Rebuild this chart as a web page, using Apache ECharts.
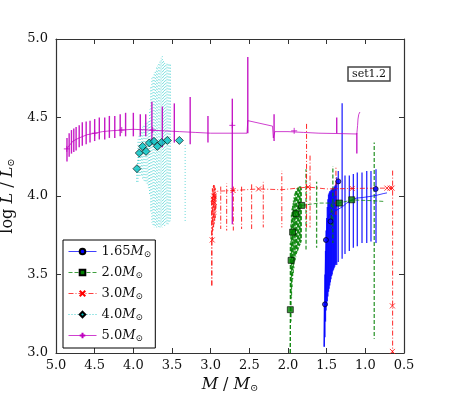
<!DOCTYPE html>
<html><head><meta charset="utf-8">
<script src="https://cdn.jsdelivr.net/npm/echarts@6/dist/echarts.min.js"></script>
<style>html,body{margin:0;padding:0;background:#fff}#c{width:449px;height:393px}</style>
</head><body><div id="c"></div>
<script>
// ---- axes ----
const xTicks = [5.0, 4.5, 4.0, 3.5, 3.0, 2.5, 2.0, 1.5, 1.0, 0.5];
const yTicks = [3.0, 3.5, 4.0, 4.5, 5.0];
const trackLabels = ['1.65', '2.0', '3.0', '4.0', '5.0'];

// ---- 1.65 Msun (blue) ----
const base165 = [[1.535,3.04],[1.525,3.35],[1.515,3.60],[1.505,3.74],[1.49,3.84],[1.47,3.88],[1.44,3.89],[1.40,3.90],[1.37,3.91],[1.30,3.93],[1.24,3.955],[1.17,3.975],[1.11,3.987],[1.04,3.99],[0.94,3.997],[0.85,4.005],[0.77,4.015],[0.72,4.02]];
const pulse165 = [[1.530,3.04,3.30],[1.522,3.10,3.50],[1.515,3.20,3.65],[1.508,3.27,3.78],[1.500,3.30,3.86],[1.492,3.33,3.93],[1.484,3.36,3.98],[1.476,3.39,4.01],[1.468,3.41,4.02],[1.460,3.43,4.03],[1.452,3.45,4.03],[1.444,3.47,4.04],[1.436,3.49,4.04],[1.428,3.50,4.05],[1.420,3.52,4.05],[1.412,3.53,4.05],[1.404,3.54,4.06],[1.396,3.55,4.06],[1.388,3.56,4.07],[1.380,3.57,4.08],[1.370,3.56,4.12],[1.350,3.58,4.16],[1.300,3.60,4.59],[1.263,3.63,4.13],[1.207,3.65,4.13],[1.155,3.67,4.14],[1.104,3.68,4.15],[1.043,3.70,4.15],[0.982,3.70,4.16],[0.927,3.71,4.16],[0.862,3.70,4.17]];
const mark165 = [[1.522,3.31],[1.51,3.72],[1.45,3.838],[1.35,4.093],[0.866,4.045]];

// ---- 2.0 Msun (green) ----
const base20 = [[1.972,3.00],[1.966,3.28],[1.96,3.59],[1.94,3.77],[1.90,3.89],[1.823,3.94],[1.80,3.945],[1.60,3.955],[1.34,3.955],[1.17,3.975],[0.90,3.97],[0.75,3.965]];
const pulse20 = [[1.970,3.00,3.70],[1.962,3.20,3.82],[1.955,3.35,3.88],[1.948,3.42,3.92],[1.940,3.47,3.95],[1.932,3.51,3.97],[1.924,3.54,3.99],[1.916,3.57,4.01],[1.908,3.59,4.02],[1.900,3.61,4.03],[1.892,3.63,4.04],[1.884,3.64,4.05],[1.876,3.65,4.05],[1.868,3.66,4.06],[1.860,3.67,4.06],[1.852,3.68,4.06],[1.844,3.69,4.06],[1.836,3.70,4.06],[1.828,3.71,4.05],[1.767,3.66,4.17],[1.630,3.67,4.09],[1.440,3.80,3.95],[1.420,3.70,4.19],[0.885,3.09,4.34]];
const mark20 = [[1.97,3.276],[1.96,3.59],[1.94,3.77],[1.897,3.887],[1.823,3.94],[1.337,3.955],[1.176,3.976]];

// ---- 3.0 Msun (red) ----
const base30 = [[2.985,3.43],[2.985,4.00],[2.93,4.03],[2.71,4.035],[2.38,4.045],[2.08,4.04],[1.74,4.057],[1.50,4.045],[1.17,4.048],[0.85,4.05],[0.65,4.05]];
const pulse30 = [[2.985,3.43,4.00],[2.978,3.72,4.05],[2.970,3.78,4.06],[2.962,3.80,4.07],[2.955,3.82,4.07],[2.948,3.84,4.06],[2.940,3.86,4.05],[2.932,3.88,4.03],[2.870,3.79,4.06],[2.793,3.78,4.08],[2.707,3.78,4.06],[2.600,3.79,4.07],[2.470,3.79,4.08],[2.320,3.80,4.09],[2.080,3.80,4.16],[1.760,3.80,4.465],[1.715,3.80,4.27],[1.380,3.88,4.18],[0.647,3.00,4.17]];
const mark30 = [[2.98,3.72],[2.965,3.98],[2.96,4.0],[2.955,3.96],[2.71,4.035],[2.38,4.045],[1.74,4.057],[1.17,4.048],[0.72,4.05],[0.68,4.05],[0.655,4.05],[0.65,3.30],[0.65,3.01]];

// ---- 4.0 Msun (cyan) ----
const base40 = [[3.955,4.09],[3.953,4.174],[3.923,4.274],[3.88,4.316],[3.836,4.284],[3.793,4.338],[3.733,4.348],[3.69,4.316],[3.633,4.341],[3.56,4.354],[3.52,4.35]];
const pulse40 = [[3.940,4.09,4.36],[3.925,4.12,4.39],[3.910,4.13,4.42],[3.895,4.12,4.43],[3.880,4.11,4.44],[3.865,4.10,4.45],[3.850,4.09,4.46],[3.835,4.08,4.47],[3.820,4.07,4.47],[3.805,4.05,4.48],[3.790,4.00,4.55],[3.775,3.90,4.70],[3.760,3.83,4.75],[3.745,3.81,4.77],[3.730,3.80,4.79],[3.715,3.80,4.80],[3.700,3.80,4.82],[3.685,3.80,4.83],[3.670,3.80,4.85],[3.655,3.80,4.86],[3.640,3.80,4.88],[3.625,3.80,4.89],[3.610,3.81,4.87],[3.595,3.81,4.85],[3.580,3.82,4.84],[3.565,3.82,4.85],[3.550,3.82,4.84],[3.535,3.83,4.85],[3.520,3.84,4.84],[3.330,3.83,4.33]];
const mark40 = [[3.953,4.174],[3.923,4.274],[3.88,4.316],[3.836,4.284],[3.793,4.338],[3.733,4.348],[3.69,4.316],[3.633,4.341],[3.56,4.354],[3.405,4.354]];

// ---- 5.0 Msun (magenta) ----
const base50 = [[4.86,4.30],[4.83,4.32],[4.78,4.35],[4.70,4.37],[4.60,4.39],[4.50,4.40],[4.40,4.41],[4.30,4.415],[4.15,4.42],[4.00,4.425],[3.80,4.42],[3.60,4.415],[3.40,4.41],[3.20,4.405],[3.00,4.40],[2.75,4.40],[2.53,4.40],[2.52,4.48],[2.20,4.445],[2.19,4.37],[2.17,4.41],[2.00,4.41],[1.80,4.405],[1.60,4.40],[1.38,4.398],[1.37,4.40],[1.11,4.395],[1.10,4.45],[1.095,4.49],[1.085,4.52],[1.07,4.535]];
const pulse50 = [[4.858,4.22,4.37],[4.83,4.25,4.40],[4.80,4.27,4.42],[4.77,4.28,4.43],[4.74,4.29,4.44],[4.70,4.31,4.45],[4.66,4.32,4.47],[4.61,4.33,4.475],[4.56,4.34,4.48],[4.50,4.35,4.49],[4.44,4.36,4.50],[4.37,4.36,4.50],[4.31,4.37,4.51],[4.24,4.37,4.51],[4.17,4.38,4.52],[4.10,4.38,4.53],[4.00,4.38,4.53],[3.91,4.38,4.52],[3.84,4.38,4.52],[3.76,4.33,4.60],[3.625,4.31,4.57],[3.47,4.34,4.59],[3.265,4.33,4.63],[3.035,4.34,4.51],[2.72,3.82,4.62],[2.52,4.40,4.885],[2.18,4.35,4.52],[1.37,4.40,4.50],[1.11,4.27,4.40]];
const mark50 = [[4.86,4.30],[4.50,4.40],[4.15,4.42],[3.75,4.42],[2.72,4.45],[1.92,4.415]];

const FONT = 'DejaVu Serif';
const tracks = [
  {label: trackLabels[0], base: base165, pulse: pulse165, mark: mark165, color: '#0000ff', dash: 'solid', pdash: null, symbol: 'circle', size: 5, lw: 1, pw: 1.3, pop: 0.85},
  {label: trackLabels[1], base: base20, pulse: pulse20, mark: mark20, color: '#008000', dash: [4, 2], pdash: [4, 2], symbol: 'rect', size: 6, lw: 1, pw: 1.3, pop: 0.8},
  {label: trackLabels[2], base: base30, pulse: pulse30, mark: mark30, color: '#ff0000', dash: [5, 2, 1, 2], pdash: [5, 2, 1, 2], symbol: 'path://M0,0L10,10M10,0L0,10', size: 5, lw: 1, pw: 1, pop: 0.85},
  {label: trackLabels[3], base: base40, pulse: pulse40, mark: mark40, color: '#00bfbf', dash: [1, 2], pdash: [1, 2], symbol: 'diamond', size: 8, lw: 1, pw: 1, pop: 0.6},
  {label: trackLabels[4], base: base50, pulse: pulse50, mark: mark50, color: '#bf00bf', dash: 'solid', pdash: null, symbol: 'path://M0,5L10,5M5,0L5,10', size: 6, lw: 1, pw: 1.4, pop: 0.9}
];

const series = [];
const markerSeries = [];
tracks.forEach(t => {
  const name = t.label + 'M⊙';
  const isPath = t.symbol.indexOf('path') === 0;
  const itemStyle = isPath ? {color: t.color, borderColor: t.color, borderWidth: 1} : {color: t.color, borderColor: '#000', borderWidth: 0.8};
  series.push({
    type: 'line', name: name, data: t.base, showSymbol: false, symbol: t.symbol, symbolSize: t.size,
    lineStyle: {color: t.color, width: t.lw, type: t.dash, opacity: 0.75},
    itemStyle: itemStyle, clip: true, z: 2
  });
  series.push({
    type: 'custom', name: name + '_p', data: t.pulse, clip: true, silent: true, z: 2,
    encode: {x: 0, y: [1, 2]},
    renderItem: (params, api) => {
      const p1 = api.coord([api.value(0), api.value(1)]);
      const p2 = api.coord([api.value(0), api.value(2)]);
      const st = {stroke: t.color, lineWidth: t.pw, opacity: t.pop};
      if (t.pdash) { st.lineDash = t.pdash; st.lineDashOffset = (params.dataIndex * 1.7) % 4; }
      return {type: 'line', shape: {x1: p1[0], y1: p1[1], x2: p2[0], y2: p2[1]}, style: st};
    }
  });
  markerSeries.push({
    type: 'scatter', name: name + '_m', data: t.mark, symbol: t.symbol, symbolSize: t.size,
    itemStyle: itemStyle, z: 5, silent: true
  });
});

const axisCommon = {
  type: 'value', splitLine: {show: false},
  axisLine: {show: true, onZero: false, lineStyle: {color: '#333', width: 1.2}},
  axisTick: {show: true, inside: true, length: 5, lineStyle: {color: '#333', width: 1}}
};
const subRich = {fontFamily: FONT, fontSize: 10, color: '#111', verticalAlign: 'bottom', padding: [8, 0, 0, 0]};

const chart = echarts.init(document.getElementById('c'), null, {renderer: 'canvas'});
chart.setOption({
  animation: false,
  backgroundColor: '#fff',
  grid: {left: 56, right: 45, top: 39, bottom: 40, containLabel: false, outerBoundsMode: 'none'},
  title: {text: 'set1.2', left: 348, top: 67, padding: [2, 4, 1, 4], borderColor: '#444', borderWidth: 1.5,
    textStyle: {fontFamily: FONT, fontSize: 11, fontWeight: 'normal', color: '#111'}},
  legend: {
    orient: 'vertical', left: 63, top: 240, data: trackLabels.map(l => l + 'M⊙'),
    itemWidth: 28, itemHeight: 7, itemGap: 7, padding: [5, 4, 5, 5],
    borderColor: '#000', borderWidth: 1, backgroundColor: '#fff',
    lineStyle: {width: 1},
    formatter: n => '{n|' + n.replace('M⊙', '') + '}{i|M}{s|⊙}',
    textStyle: {fontFamily: FONT, fontSize: 13, color: '#111',
      rich: {n: {fontFamily: FONT, fontSize: 13}, i: {fontFamily: FONT, fontSize: 13, fontStyle: 'italic'}, s: {fontFamily: FONT, fontSize: 9, verticalAlign: 'bottom', padding: [6, 0, 0, 0]}}}
  },
  xAxis: [
    Object.assign({}, axisCommon, {min: 0.5, max: 5, interval: 0.5, inverse: true, position: 'bottom',
      axisLabel: {margin: 6, fontFamily: FONT, fontSize: 13, color: '#111', formatter: v => xTicks.includes(+v.toFixed(1)) ? v.toFixed(1) : ''},
      name: '{i|M}{n| / }{i|M}{s|⊙}', nameLocation: 'middle', nameGap: 20,
      nameTextStyle: {rich: {i: {fontFamily: FONT, fontSize: 16, fontStyle: 'italic', color: '#111'}, n: {fontFamily: FONT, fontSize: 16, color: '#111'}, s: subRich}}}),
    Object.assign({}, axisCommon, {min: 0.5, max: 5, interval: 0.5, inverse: true, position: 'top', axisLabel: {show: false}})
  ],
  yAxis: [
    Object.assign({}, axisCommon, {min: 3, max: 5, interval: 0.5, position: 'left',
      axisLabel: {margin: 8, fontFamily: FONT, fontSize: 13, color: '#111', formatter: v => yTicks.includes(+v.toFixed(1)) ? v.toFixed(1) : ''},
      name: '{n|log }{i|L}{n| / }{i|L}{s|⊙}', nameLocation: 'middle', nameGap: 30, nameRotate: 90,
      nameTextStyle: {rich: {i: {fontFamily: FONT, fontSize: 16, fontStyle: 'italic', color: '#111'}, n: {fontFamily: FONT, fontSize: 16, color: '#111'}, s: subRich}}}),
    Object.assign({}, axisCommon, {min: 3, max: 5, interval: 0.5, position: 'right', axisLabel: {show: false}})
  ],
  series: series.concat(markerSeries)
});
</script></body></html>
